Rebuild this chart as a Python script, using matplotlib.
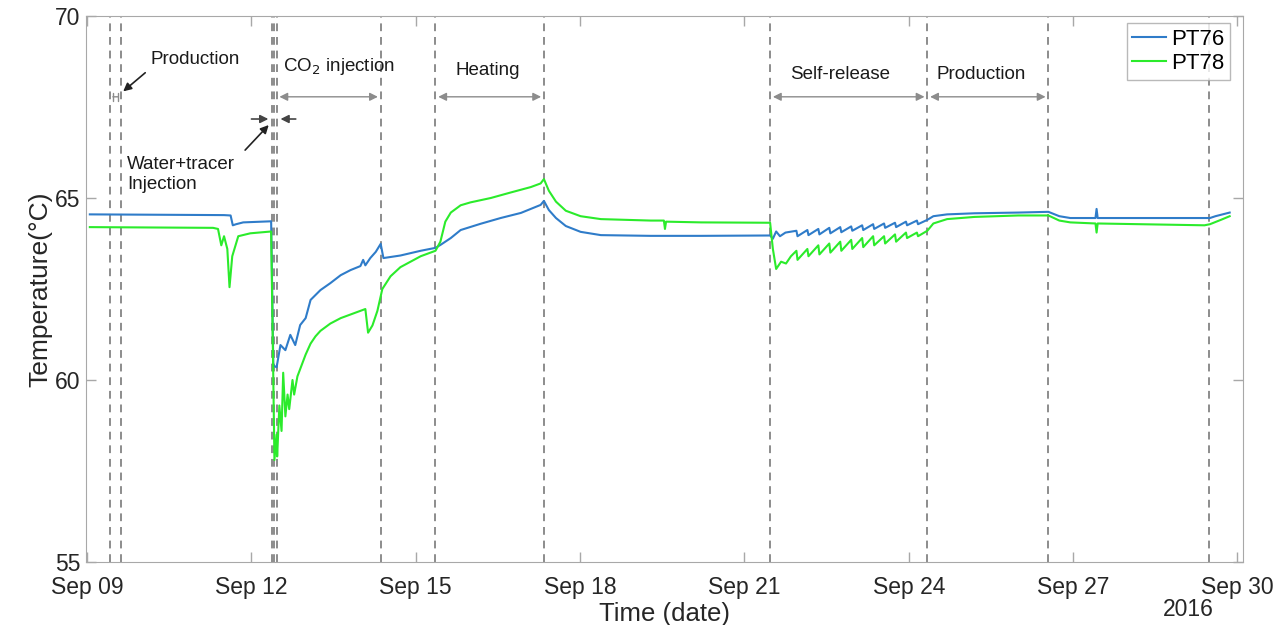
import numpy as np
import pandas as pd
import matplotlib
matplotlib.use("Agg")
import matplotlib.pyplot as plt
import matplotlib.dates as mdates

plt.rcParams["font.family"] = ["Liberation Sans", "DejaVu Sans"]

# Time axis starts at Sep 09 2016, offsets below are in days
t0 = pd.Timestamp("2016-09-09")

# PT76 temperature record (days since t0, degC)
pt76_days = [0.05, 2.50, 2.62, 2.66, 2.72, 2.85, 3.36, 3.40, 3.46, 3.53, 3.62, 3.71, 3.80, 3.89,
             3.99, 4.08, 4.26, 4.44, 4.63, 4.81, 4.99, 5.04, 5.08, 5.17, 5.27, 5.36, 5.41, 5.72,
             6.09, 6.36, 6.45, 6.64, 6.82, 7.18, 7.55, 7.92, 8.28, 8.34, 8.43, 8.56, 8.74, 9.01,
             9.38, 10.29, 11.21, 12.47, 12.52, 12.58, 12.65, 12.75,
             12.95, 12.97, 13.15, 13.17, 13.35, 13.37, 13.55, 13.57, 13.75, 13.77, 13.95, 13.97,
             14.15, 14.17, 14.35, 14.37, 14.55, 14.57, 14.75, 14.77, 14.95, 14.97, 15.15, 15.17,
             15.34, 15.45, 15.70, 16.20, 17.00, 17.55, 17.75, 17.95, 18.41, 18.43, 18.45,
             20.40, 20.50, 20.60, 20.86]
pt76_temp = [64.55, 64.53, 64.52, 64.25, 64.28, 64.33, 64.36, 60.40, 60.35, 60.96, 60.82, 61.24, 60.96, 61.51,
             61.70, 62.20, 62.47, 62.66, 62.88, 63.02, 63.13, 63.30, 63.15, 63.35, 63.52, 63.74, 63.35, 63.42,
             63.55, 63.63, 63.71, 63.90, 64.12, 64.29, 64.45, 64.59, 64.81, 64.92, 64.67, 64.45, 64.23, 64.07,
             63.98, 63.96, 63.96, 63.97, 63.88, 64.08, 63.95, 64.05,
             64.10, 63.95, 64.12, 63.98, 64.15, 64.00, 64.18, 64.03, 64.20, 64.06, 64.22, 64.10,
             64.25, 64.12, 64.28, 64.15, 64.30, 64.18, 64.32, 64.20, 64.35, 64.25, 64.38, 64.28,
             64.40, 64.50, 64.55, 64.58, 64.60, 64.62, 64.50, 64.45, 64.45, 64.70, 64.45,
             64.45, 64.45, 64.50, 64.60]

# PT78 temperature record (days since t0, degC)
pt78_days = [0.05, 2.30, 2.39, 2.45, 2.50, 2.56, 2.60, 2.65, 2.76, 2.98, 3.36, 3.40, 3.42, 3.46,
             3.47, 3.51, 3.55, 3.58, 3.62, 3.66, 3.69, 3.75, 3.78, 3.84, 3.89, 3.99, 4.08, 4.17,
             4.26, 4.44, 4.63, 4.81, 4.99, 5.08, 5.13, 5.21, 5.30, 5.39, 5.54, 5.72, 6.09, 6.36,
             6.45, 6.54, 6.64, 6.82, 7.00, 7.37, 7.73, 8.10, 8.28, 8.34, 8.43, 8.56, 8.74, 9.01,
             9.38, 10.29, 10.53, 10.55, 10.57, 11.21, 12.47, 12.52, 12.58, 12.67, 12.76, 12.85,
             12.95, 12.97, 13.15, 13.17, 13.35, 13.37, 13.55, 13.57, 13.75, 13.77, 13.95, 13.97,
             14.15, 14.17, 14.35, 14.37, 14.55, 14.57, 14.75, 14.77, 14.95, 14.97, 15.15, 15.17,
             15.34, 15.45, 15.70, 16.20, 17.00, 17.55, 17.75, 17.95, 18.41, 18.43, 18.45,
             20.40, 20.50, 20.70, 20.86]
pt78_temp = [64.20, 64.18, 64.15, 63.70, 63.95, 63.60, 62.55, 63.40, 63.95, 64.03, 64.08, 60.00, 57.80, 58.50,
             57.90, 59.30, 58.60, 60.20, 59.00, 59.60, 59.20, 60.00, 59.60, 60.10, 60.30, 60.70, 61.00, 61.20,
             61.35, 61.55, 61.70, 61.80, 61.90, 61.95, 61.30, 61.50, 61.90, 62.50, 62.85, 63.10, 63.40, 63.55,
             63.80, 64.35, 64.60, 64.80, 64.88, 65.00, 65.15, 65.30, 65.40, 65.52, 65.20, 64.90, 64.65, 64.50,
             64.42, 64.38, 64.38, 64.15, 64.35, 64.33, 64.32, 63.60, 63.05, 63.25, 63.20, 63.40,
             63.55, 63.30, 63.60, 63.40, 63.70, 63.45, 63.75, 63.50, 63.80, 63.55, 63.85, 63.60,
             63.90, 63.65, 63.95, 63.70, 63.95, 63.75, 64.00, 63.80, 64.05, 63.90, 64.05, 63.95,
             64.10, 64.30, 64.42, 64.48, 64.52, 64.52, 64.38, 64.33, 64.30, 64.05, 64.30,
             64.25, 64.28, 64.40, 64.50]

# Operation switch-over times (days since t0)
event_days = [0.42, 0.62, 3.37, 3.41, 3.46, 5.36, 6.36, 8.34, 12.47, 15.34, 17.55, 20.48]

# Stage spans shown with double arrows: (start, end, label, label day, label temp)
stages = [
    (3.46, 5.36, "CO$_2$ injection", 3.58, 68.6),
    (6.36, 8.34, "Heating", 6.73, 68.5),
    (12.47, 15.34, "Self-release", 12.83, 68.4),
    (15.34, 17.55, "Production", 15.50, 68.4),
]


def to_dates(days):
    return t0 + pd.to_timedelta(np.asarray(days), unit="D")


fig = plt.figure(figsize=(12.76, 6.25), dpi=100)
ax = fig.add_axes([0.0674, 0.1008, 0.9066, 0.8736])

ax.plot(to_dates(pt76_days), pt76_temp, color="#2F7CC9", lw=1.5, label="PT76")
ax.plot(to_dates(pt78_days), pt78_temp, color="#2BEB2B", lw=1.5, label="PT78")

for d in to_dates(event_days):
    ax.axvline(d, color="#8C8C8C", ls=(0, (4, 3)), lw=1.4, zorder=0)

arrow_grey = dict(arrowstyle="<|-|>", color="#8C8C8C", lw=1.0, mutation_scale=12)
for start, end, label, lx, ly in stages:
    ax.annotate("", xy=(to_dates([end])[0], 67.78), xytext=(to_dates([start])[0], 67.78),
                arrowprops=arrow_grey)
    ax.text(to_dates([lx])[0], ly, label, fontsize=13.5, color="#1A1A1A", va="center")

# first production window is too narrow for an arrow head
ax.annotate("", xy=(to_dates([0.62])[0], 67.78), xytext=(to_dates([0.42])[0], 67.78),
            arrowprops=dict(arrowstyle="|-|", color="#8C8C8C", lw=1.0, mutation_scale=3))
ax.text(to_dates([1.15])[0], 68.8, "Production", fontsize=13.5, color="#1A1A1A", va="center")
ax.annotate("", xy=(to_dates([0.62])[0], 67.88), xytext=(to_dates([1.10])[0], 68.49),
            arrowprops=dict(arrowstyle="-|>", color="#222222", lw=1.2, mutation_scale=12))

# water + tracer injection: two inward arrows and a pointer
ax.annotate("", xy=(to_dates([3.36])[0], 67.17), xytext=(to_dates([2.95])[0], 67.17),
            arrowprops=dict(arrowstyle="-|>", color="#444444", lw=1.2, mutation_scale=12))
ax.annotate("", xy=(to_dates([3.48])[0], 67.17), xytext=(to_dates([3.86])[0], 67.17),
            arrowprops=dict(arrowstyle="-|>", color="#444444", lw=1.2, mutation_scale=12))
ax.annotate("", xy=(to_dates([3.35])[0], 67.06), xytext=(to_dates([2.85])[0], 66.26),
            arrowprops=dict(arrowstyle="-|>", color="#222222", lw=1.2, mutation_scale=12))
ax.text(to_dates([0.73])[0], 65.65, "Water+tracer\nInjection", fontsize=13.5, color="#1A1A1A",
        va="center", linespacing=1.2)

ax.set_xlim(to_dates([-0.02])[0], to_dates([21.1])[0])
ax.set_ylim(55, 70)
ax.set_yticks([55, 60, 65, 70])
ax.xaxis.set_major_locator(mdates.DayLocator(bymonthday=[9, 12, 15, 18, 21, 24, 27, 30]))
ax.xaxis.set_major_formatter(mdates.DateFormatter("%b %d"))

for side in ax.spines.values():
    side.set_color("#A8A8A8")
ax.tick_params(direction="in", length=7, width=1, color="#A8A8A8", labelsize=16.5,
               labelcolor="#262626", top=True, right=True)
ax.tick_params(axis="x", pad=10)
ax.tick_params(axis="y", pad=4)

ax.set_xlabel("Time (date)", fontsize=18.5, color="#262626", labelpad=2)
ax.set_ylabel("Temperature(°C)", fontsize=19, color="#262626", labelpad=2)
fig.text(1188 / 1276, 1 - 609 / 625, "2016", fontsize=16.5, color="#262626", ha="center", va="center")

leg = ax.legend(loc="upper right", fontsize=16, frameon=True, fancybox=False,
                handlelength=1.5, handletextpad=0.25, borderpad=0.25, borderaxespad=0,
                labelspacing=0.15, bbox_to_anchor=(0.989, 0.987))
leg.get_frame().set_edgecolor("#A8A8A8")
leg.get_frame().set_linewidth(1.0)

fig.savefig("out.png", dpi=100)
